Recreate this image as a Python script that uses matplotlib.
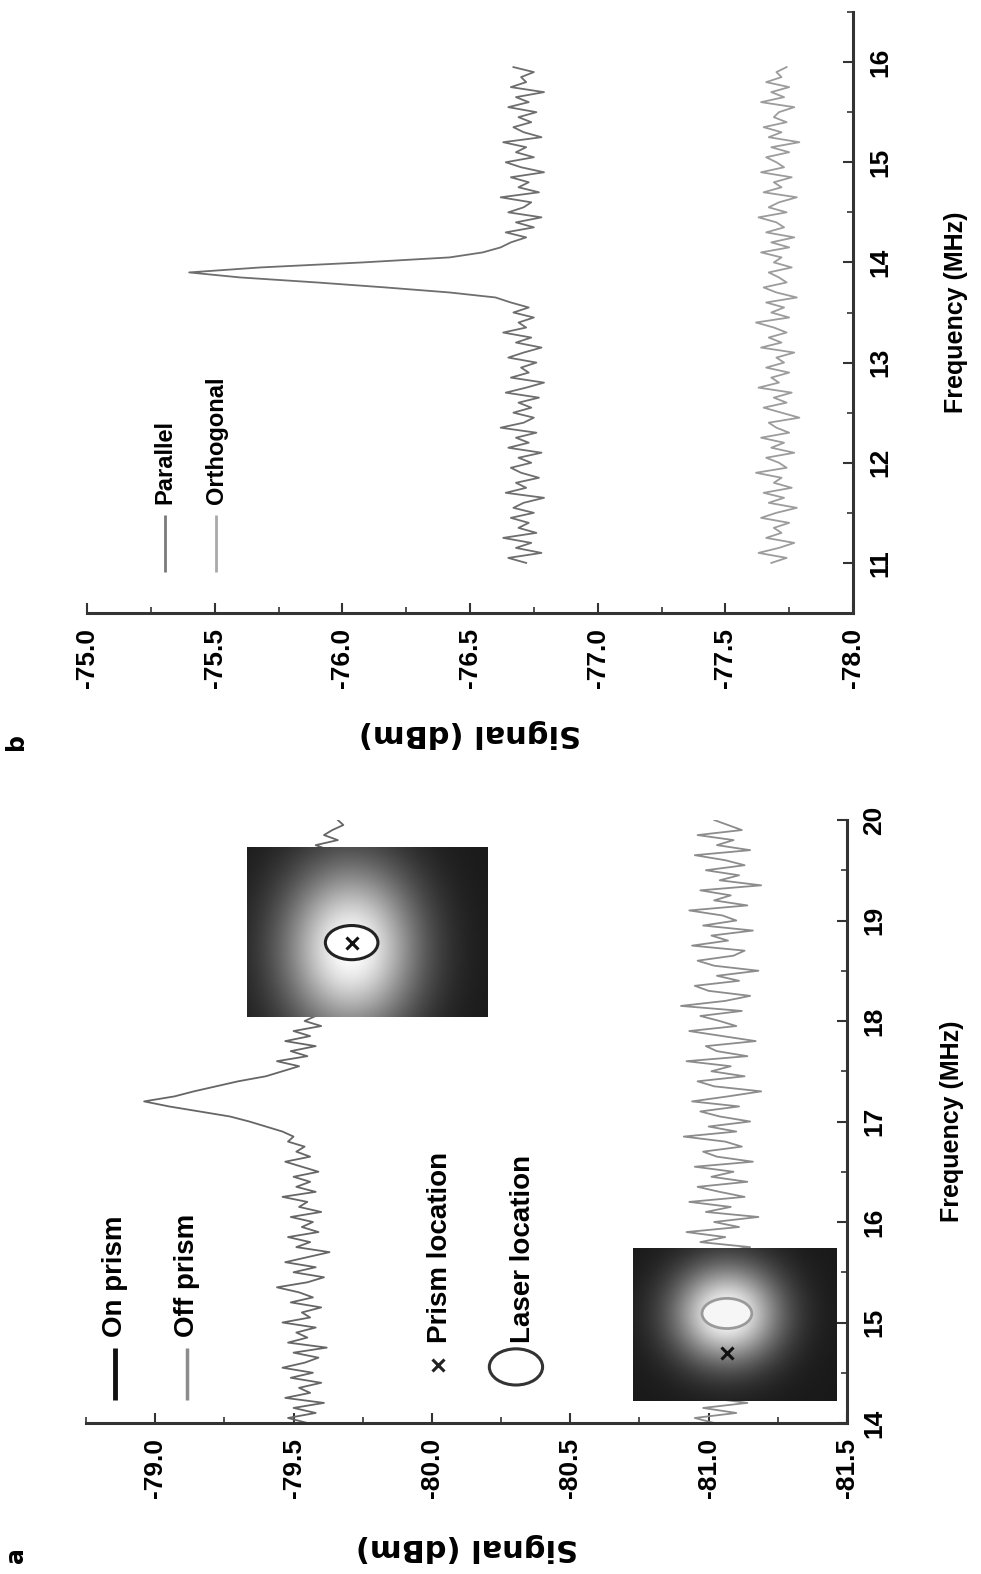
import numpy as np
import matplotlib
matplotlib.use('Agg')
from matplotlib import pyplot as plt
from matplotlib.patches import Ellipse
from matplotlib.ticker import MultipleLocator, FormatStrFormatter

plt.rcParams['axes.unicode_minus'] = False
NARROW = ['Liberation Sans Narrow', 'Liberation Sans', 'DejaVu Sans']
WIDE = ['DejaVu Sans']
plt.rcParams['font.family'] = NARROW
plt.rcParams['font.weight'] = 'bold'

# ---------------- panel a: on / off prism (MHz, dBm) ----------------
freq_a_start = 14.0
freq_a_step = 0.05
on_prism = [
    -79.55, -79.48, -79.58, -79.50, -79.61, -79.47, -79.56, -79.52, -79.60, -79.49,
    -79.57, -79.46, -79.54, -79.59, -79.50, -79.62, -79.48, -79.55, -79.51, -79.58,
    -79.46, -79.56, -79.53, -79.60, -79.49, -79.57, -79.52, -79.44, -79.55, -79.61,
    -79.50, -79.58, -79.47, -79.55, -79.63, -79.51, -79.56, -79.48, -79.59, -79.53,
    -79.57, -79.49, -79.60, -79.52, -79.55, -79.46, -79.58, -79.51, -79.56, -79.50,
    -79.59, -79.53, -79.47, -79.56, -79.51, -79.54, -79.48,
    -79.50, -79.46, -79.40, -79.34, -79.27, -79.16, -79.05, -78.96, -79.07, -79.14,
    -79.22, -79.30, -79.40, -79.46,
    -79.52, -79.44, -79.55, -79.49, -79.58, -79.47, -79.56, -79.50, -79.60,
    -79.54, -79.58, -79.50, -79.57, -79.53, -79.60, -79.52, -79.56, -79.49, -79.58,
    -79.55, -79.61, -79.53, -79.57, -79.50, -79.59, -79.54, -79.62, -79.56, -79.52,
    -79.60, -79.55, -79.58, -79.63, -79.54, -79.59, -79.61, -79.56, -79.64, -79.58,
    -79.62, -79.57, -79.65, -79.60, -79.63, -79.58, -79.66, -79.61, -79.64, -79.68,
    -79.66,
]
off_prism = [
    -81.02, -80.95, -81.10, -80.98, -81.14, -81.00, -81.08, -80.93, -81.12, -81.04,
    -80.97, -81.15, -81.01, -81.09, -80.94, -81.11, -81.03, -80.99, -81.16, -81.05,
    -80.96, -81.10, -81.02, -81.13, -80.95, -81.07, -81.00, -81.17, -81.04, -80.98,
    -81.12, -81.01, -80.94, -81.09, -81.03, -81.15, -80.97, -81.06, -80.92, -81.11,
    -81.02, -81.18, -80.99, -81.08, -80.93, -81.13, -81.04, -80.96, -81.14, -81.01,
    -81.09, -80.95, -81.16, -81.03, -80.98, -81.12, -81.06, -80.91, -81.10, -81.00,
    -81.15, -81.04, -80.97, -81.11, -80.94, -81.07, -81.19, -81.02, -80.96, -81.13,
    -81.01, -81.08, -80.92, -81.14, -81.03, -80.99, -81.17, -81.05, -80.93, -81.10,
    -81.04, -80.97, -81.12, -80.90, -81.06, -81.15, -81.00, -80.95, -81.11, -81.03,
    -81.18, -81.02, -80.96, -81.09, -81.13, -80.94, -81.07, -81.01, -81.16, -80.98,
    -81.10, -81.05, -80.93, -81.14, -81.02, -81.08, -80.97, -81.19, -81.04, -81.11,
    -80.99, -81.13, -81.06, -80.95, -81.15, -81.03, -81.09, -80.96, -81.12, -81.07,
    -81.02,
]
sig_a_lim = (-78.75, -81.5)
freq_a_lim = (14, 20)

# beam profile insets: (signal left, signal right, freq bottom, freq top)
inset_on_extent = (-79.33, -80.20, 18.04, 19.73)
inset_off_extent = (-80.725, -81.46, 14.22, 15.74)
spot_on_xy = (-79.71, 18.78)      # laser spot and prism on top of each other
laser_off_xy = (-81.066, 15.09)
prism_off_xy = (-81.066, 14.70)

# ---------------- panel b: parallel / orthogonal ----------------
freq_b_start = 11.0
freq_b_step = 0.05
parallel = [
    -76.72, -76.65, -76.78, -76.68, -76.74, -76.63, -76.76, -76.69, -76.73, -76.66,
    -76.75, -76.67, -76.71, -76.79, -76.64, -76.72, -76.68, -76.77, -76.70, -76.66,
    -76.74, -76.69, -76.78, -76.65, -76.73, -76.68, -76.76, -76.62, -76.71, -76.75,
    -76.67, -76.74, -76.69, -76.77, -76.64, -76.72, -76.79, -76.66, -76.73, -76.70,
    -76.76, -76.65, -76.71, -76.78, -76.68, -76.74, -76.63, -76.72, -76.69, -76.75,
    -76.67, -76.73, -76.66,
    -76.60, -76.42, -76.17, -75.90, -75.60, -75.40, -75.68, -76.08, -76.42, -76.55,
    -76.62,
    -76.66, -76.72, -76.64, -76.75, -76.68, -76.78,
    -76.65, -76.71, -76.74, -76.62, -76.77, -76.69, -76.73, -76.66, -76.79, -76.70,
    -76.64, -76.75, -76.68, -76.72, -76.63, -76.78, -76.71, -76.67, -76.74, -76.69,
    -76.76, -76.65, -76.73, -76.68, -76.79, -76.66, -76.72, -76.70, -76.75, -76.67,
]
orthogonal = [
    -77.68, -77.74, -77.63, -77.71, -77.77, -77.66, -77.72, -77.69, -77.75, -77.64,
    -77.70, -77.78, -77.67, -77.73, -77.65, -77.76, -77.69, -77.72, -77.62, -77.74,
    -77.71, -77.66, -77.77, -77.68, -77.73, -77.64, -77.75, -77.70, -77.67, -77.79,
    -77.72, -77.65, -77.74, -77.69, -77.76, -77.63, -77.71, -77.68, -77.75, -77.66,
    -77.73, -77.70, -77.77, -77.64, -77.72, -77.67, -77.74, -77.69, -77.62, -77.75,
    -77.68, -77.73, -77.66, -77.78, -77.70, -77.65, -77.74, -77.71, -77.67, -77.76,
    -77.69, -77.72, -77.64, -77.75, -77.68, -77.77, -77.66, -77.73, -77.70, -77.63,
    -77.74, -77.67, -77.71, -77.78, -77.65, -77.72, -77.69, -77.76, -77.64, -77.73,
    -77.70, -77.66, -77.75, -77.68, -77.79, -77.67, -77.72, -77.65, -77.74, -77.69,
    -77.71, -77.77, -77.64, -77.73, -77.68, -77.75, -77.66, -77.72, -77.70, -77.74,
]
sig_b_lim = (-75.0, -78.0)
freq_b_lim = (10.5, 16.5)


def beam_image(cx, cy, sx, sy, nx=160, ny=120):
    # dark frame with a bright gaussian spot, like the camera shots in the figure
    u, v = np.meshgrid(np.linspace(0, 1, nx), np.linspace(0, 1, ny))
    r2 = ((u - cx) / sx) ** 2 + ((v - cy) / sy) ** 2
    return 0.10 + 0.90 * np.exp(-r2)


def style_axes(ax, xlim, ylim):
    # figure is printed turned on its side: signal runs right-to-left along the
    # bottom, frequency runs upwards on the right
    ax.set_xlim(*xlim)
    ax.set_ylim(*ylim)
    ax.spines[['top', 'left']].set_visible(False)
    for s in ['bottom', 'right']:
        ax.spines[s].set_linewidth(2.2)
        ax.spines[s].set_color('#333333')
    ax.yaxis.tick_right()
    ax.yaxis.set_label_position('right')
    ax.xaxis.set_major_locator(MultipleLocator(0.5))
    ax.xaxis.set_minor_locator(MultipleLocator(0.25))
    ax.yaxis.set_major_locator(MultipleLocator(1))
    ax.yaxis.set_minor_locator(MultipleLocator(0.5))
    ax.xaxis.set_major_formatter(FormatStrFormatter('%.1f'))
    ax.yaxis.set_major_formatter(FormatStrFormatter('%d'))
    ax.tick_params(which='major', direction='in', length=7, width=1.5,
                   labelsize=19, pad=11, color='#333333')
    ax.tick_params(which='minor', direction='in', length=4, width=1.2, color='#333333')
    ax.tick_params(axis='x', labelrotation=90)
    ax.tick_params(axis='y', labelrotation=90)
    for lbl in ax.get_yticklabels():
        lbl.set_va('center')
        lbl.set_ha('left')
    ax.set_xlabel('Signal (dBm)', family=WIDE, fontsize=22, fontweight='bold',
                  rotation=180, va='center')
    ax.set_ylabel('Frequency (MHz)', fontsize=18, fontweight='bold',
                  rotation=90, va='center', ha='center')


def legend_entry(ax, x, y0, y1, text, color, lw, fontsize):
    ax.plot([x, x], [y0, y1], color=color, lw=lw, transform=ax.transAxes,
            solid_capstyle='butt', clip_on=False)
    ax.text(x, y1 + 0.018, text, transform=ax.transAxes, rotation=90,
            rotation_mode='anchor', ha='left', va='center', fontsize=fontsize,
            fontweight='bold')


fig = plt.figure(figsize=(9.81, 15.74), dpi=100)

# ---------------- panel b (top of page) ----------------
axb = fig.add_axes([87 / 981, 1 - 613 / 1574, 766 / 981, 601 / 1574])
freq_b = freq_b_start + freq_b_step * np.arange(len(parallel))
axb.plot(parallel, freq_b, color='#6e6e6e', lw=1.3, zorder=2)
axb.plot(orthogonal, freq_b, color='#9c9c9c', lw=1.3, zorder=2)
style_axes(axb, sig_b_lim, freq_b_lim)
axb.xaxis.set_label_coords(0.5, -0.2)
axb.yaxis.set_label_coords(1.135, 0.5)
legend_entry(axb, 0.102, 0.068, 0.163, 'Parallel', '#7a7a7a', 2.0, 17)
legend_entry(axb, 0.169, 0.068, 0.163, 'Orthogonal', '#aaaaaa', 2.0, 17)

# ---------------- panel a (bottom of page) ----------------
axa = fig.add_axes([86 / 981, 1 - 1423 / 1574, 761 / 981, 603 / 1574])
freq_a = freq_a_start + freq_a_step * np.arange(len(on_prism))
axa.plot(on_prism, freq_a, color='#666666', lw=1.3, zorder=2)
axa.plot(off_prism, freq_a, color='#8c8c8c', lw=1.3, zorder=2)
style_axes(axa, sig_a_lim, freq_a_lim)
axa.xaxis.set_label_coords(0.5, -0.206)
axa.yaxis.set_label_coords(1.138, 0.5)

axa.imshow(beam_image(0.43, 0.60, 0.28, 0.50), cmap='gray', vmin=0, vmax=1,
           extent=inset_on_extent, origin='upper', aspect='auto',
           interpolation='bilinear', zorder=3)
axa.imshow(beam_image(0.46, 0.43, 0.26, 0.32), cmap='gray', vmin=0, vmax=1,
           extent=inset_off_extent, origin='upper', aspect='auto',
           interpolation='bilinear', zorder=3)
axa.add_patch(Ellipse(spot_on_xy, 0.19, 0.34, facecolor='white',
                      edgecolor='#222222', lw=2.2, zorder=4))
axa.plot(*spot_on_xy, marker='x', color='#111111', ms=8, mew=2.2, zorder=5)
axa.add_patch(Ellipse(laser_off_xy, 0.18, 0.30, facecolor='#f6f6f6',
                      edgecolor='#9a9a9a', lw=2.0, zorder=4))
axa.plot(*prism_off_xy, marker='x', color='#111111', ms=8, mew=2.2, zorder=5)

legend_entry(axa, 0.038, 0.038, 0.124, 'On prism', '#111111', 3.5, 20)
legend_entry(axa, 0.133, 0.038, 0.124, 'Off prism', '#8c8c8c', 2.5, 20)
axa.plot(0.4626, 0.096, marker='x', color='#222222', ms=8, mew=2.2,
         transform=axa.transAxes, clip_on=False)
axa.text(0.465, 0.133, 'Prism location', transform=axa.transAxes, rotation=90,
         rotation_mode='anchor', ha='left', va='center', fontsize=20, fontweight='bold')
axa.add_patch(Ellipse((0.565, 0.093), 0.07, 0.06, transform=axa.transAxes,
                      facecolor='none', edgecolor='#333333', lw=2.2, clip_on=False))
axa.text(0.574, 0.133, 'Laser location', transform=axa.transAxes, rotation=90,
         rotation_mode='anchor', ha='left', va='center', fontsize=20, fontweight='bold')

# panel letters
fig.text(0.016, 0.529, 'b', family=WIDE, fontsize=17, rotation=90, ha='center', va='center')
fig.text(0.016, 0.012, 'a', family=WIDE, fontsize=17, rotation=90, ha='center', va='center')

fig.savefig('out.png', dpi=100)
